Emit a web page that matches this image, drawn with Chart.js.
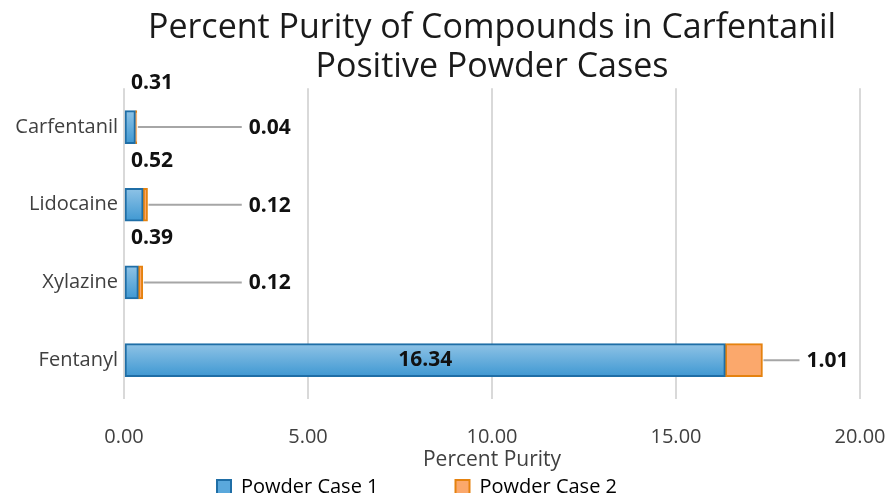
<!DOCTYPE html>
<html>
<head>
<meta charset="utf-8">
<script src="https://cdn.jsdelivr.net/npm/chart.js@4/dist/chart.umd.min.js"></script>
<style>
  html, body { margin: 0; padding: 0; overflow: hidden; background: #fff; }
</style>
</head>
<body>
<canvas id="chart" width="889" height="510"></canvas>
<script>
const compounds = ["Carfentanil", "Lidocaine", "Xylazine", "Fentanyl"];
const case1 = [0.31, 0.52, 0.39, 16.34];
const case2 = [0.04, 0.12, 0.12, 1.01];
const seriesNames = ["Powder Case 1", "Powder Case 2"];

const BAR = 33;

function blueFill(context) {
  const chart = context.chart;
  const y = chart.scales.y;
  if (!y || context.type !== "data") return "#5aa8dc";
  const cy = y.getPixelForValue(context.dataIndex);
  const g = chart.ctx.createLinearGradient(0, cy - BAR / 2, 0, cy + BAR / 2);
  g.addColorStop(0, "#8fc3e6");
  g.addColorStop(1, "#3f98d2");
  return g;
}

// centre the title over the plot area; legend with wide item gaps, sitting low like the original
const placeBlocks = {
  id: "placeBlocks",
  afterLayout(chart) {
    if (chart.titleBlock) {
      chart.titleBlock.left = chart.chartArea.left;
      chart.titleBlock.right = chart.chartArea.right;
    }
    const lg = chart.legend;
    if (lg) {
      lg.left = 0;
      lg.right = chart.width - 55;
      lg.top = 400;
      lg.bottom = chart.height;
      lg.height = lg.bottom - lg.top;
    }
  }
};

// value labels: case 1 above small bars / centred in big bar, case 2 with leader line
const valueLabels = {
  id: "valueLabels",
  afterDatasetsDraw(chart) {
    const c = chart.ctx;
    const xs = chart.scales.x;
    c.save();
    c.font = "bold 21px 'Open Sans'";
    c.fillStyle = "#111";
    c.textBaseline = "middle";
    chart.getDatasetMeta(0).data.forEach((bar, i) => {
      const v = case1[i];
      if (bar.x - bar.base > 80) {
        c.textAlign = "center";
        c.fillText(v.toFixed(2), (bar.x + bar.base) / 2, bar.y);
      } else {
        c.textAlign = "left";
        c.fillText(v.toFixed(2), bar.base + 6, bar.y - 44);
      }
    });
    chart.getDatasetMeta(1).data.forEach((bar, i) => {
      const end = bar.x;
      const tx = end < xs.getPixelForValue(3) ? xs.getPixelForValue(3.2) : end + 37;
      c.strokeStyle = "#a6a6a6";
      c.lineWidth = 2;
      c.beginPath();
      c.moveTo(end + 1, bar.y);
      c.lineTo(tx, bar.y);
      c.stroke();
      c.textAlign = "left";
      c.fillText(case2[i].toFixed(2), tx + 7, bar.y + 1);
    });
    c.restore();
  }
};

new Chart(document.getElementById("chart").getContext("2d"), {
  type: "bar",
  data: {
    labels: compounds,
    datasets: [
      {
        label: seriesNames[0],
        data: case1,
        backgroundColor: blueFill,
        borderColor: "#1f6ea6",
        borderWidth: 2,
        borderSkipped: false,
        barThickness: BAR
      },
      {
        label: seriesNames[1],
        data: case2,
        backgroundColor: "#fba86c",
        borderColor: "#e5820f",
        borderWidth: 2,
        borderSkipped: false,
        barThickness: BAR
      }
    ]
  },
  plugins: [placeBlocks, valueLabels],
  options: {
    indexAxis: "y",
    responsive: false,
    animation: false,
    layout: { padding: { top: 9, right: 3, bottom: 2, left: 6 } },
    scales: {
      x: {
        stacked: true,
        min: 0,
        max: 20,
        ticks: {
          stepSize: 5,
          padding: 26,
          color: "#404040",
          font: { family: "'Open Sans'", size: 20 },
          callback: v => v.toFixed(2)
        },
        grid: { color: "#d9d9d9", lineWidth: 2, drawTicks: false },
        border: { display: false },
        title: {
          display: true,
          text: "Percent Purity",
          color: "#404040",
          font: { family: "'Open Sans'", size: 21 },
          padding: { top: 0, bottom: -3 }
        },
        afterFit: s => { s.height = 71; s.paddingRight = 29; }
      },
      y: {
        stacked: true,
        ticks: {
          color: "#404040",
          padding: 6,
          font: { family: "'Open Sans'", size: 20 }
        },
        grid: { display: false, drawTicks: false },
        border: { display: false },
        afterFit: s => { s.width = 118; }
      }
    },
    plugins: {
      title: {
        display: true,
        text: ["Percent Purity of Compounds in Carfentanil", "Positive Powder Cases"],
        color: "#1a1a1a",
        font: { family: "'Open Sans'", size: 34, weight: "normal", lineHeight: 1.15 },
        padding: { top: 0, bottom: 1 }
      },
      legend: {
        position: "bottom",
        maxHeight: 38,
        labels: {
          color: "#404040",
          font: { family: "'Open Sans'", size: 20 },
          boxWidth: 14,
          boxHeight: 14,
          padding: 77,
          generateLabels: () => [
            { text: seriesNames[0], fillStyle: "#5aa8dc", strokeStyle: "#1f6ea6", lineWidth: 2, datasetIndex: 0 },
            { text: seriesNames[1], fillStyle: "#fba86c", strokeStyle: "#e5820f", lineWidth: 2, datasetIndex: 1 }
          ]
        }
      },
      tooltip: { enabled: false }
    }
  }
});
</script>
</body>
</html>
